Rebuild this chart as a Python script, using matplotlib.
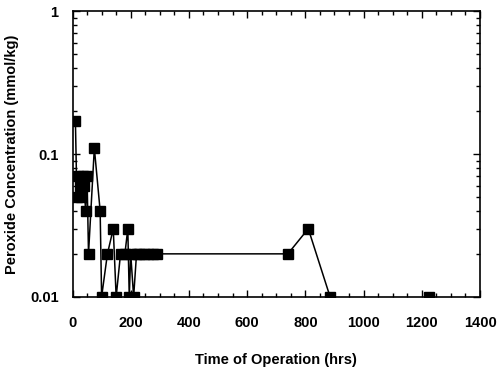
import numpy as np
import matplotlib.pyplot as plt
from matplotlib.ticker import MultipleLocator, LogLocator, NullFormatter, FixedFormatter, FixedLocator

plt.rcParams['font.family'] = ['Liberation Sans', 'DejaVu Sans']

# connected measurements (hrs, mmol/kg)
hours = [10, 15, 20, 25, 30, 35, 40, 45, 50, 55, 75, 95, 100, 120, 140, 150,
         165, 180, 190, 195, 200, 210, 220, 230, 245, 260, 275, 290,
         740, 810, 885]
peroxide = [0.17, 0.05, 0.07, 0.06, 0.05, 0.07, 0.06, 0.04, 0.07, 0.02, 0.11, 0.04, 0.01, 0.02, 0.03, 0.01,
            0.02, 0.02, 0.03, 0.01, 0.02, 0.01, 0.02, 0.02, 0.02, 0.02, 0.02, 0.02,
            0.02, 0.03, 0.01]
# isolated last measurement
hours_last = [1225]
peroxide_last = [0.01]

fig = plt.figure(figsize=(5.0, 3.72), dpi=100)
ax = fig.add_axes([0.145, 0.202, 0.815, 0.768])

ax.plot(hours, peroxide, color='black', lw=1.1, marker='s', ms=6.5,
        mfc='black', mec='black')
ax.plot(hours_last, peroxide_last, ls='none', marker='s', ms=6.5,
        mfc='black', mec='black')

ax.set_yscale('log')
ax.set_xlim(0, 1400)
ax.set_ylim(0.01, 1)
ax.xaxis.set_major_locator(MultipleLocator(200))
ax.xaxis.set_minor_locator(MultipleLocator(50))
ax.yaxis.set_major_locator(FixedLocator([0.01, 0.1, 1]))
ax.yaxis.set_major_formatter(FixedFormatter(['0.01', '0.1', '1']))
ax.yaxis.set_minor_locator(LogLocator(base=10, subs=np.arange(2, 10)))
ax.yaxis.set_minor_formatter(NullFormatter())

ax.tick_params(which='both', direction='in', top=True, right=True, width=1.0)
ax.tick_params(which='major', length=5, labelsize=10.5)
ax.tick_params(which='minor', length=3)
ax.tick_params(axis='x', which='major', pad=14)
ax.tick_params(axis='y', which='major', pad=10)
for lab in ax.get_xticklabels() + ax.get_yticklabels():
    lab.set_fontweight('bold')
for sp in ax.spines.values():
    sp.set_linewidth(1.2)

ax.set_xlabel('Time of Operation (hrs)', fontsize=10.5, fontweight='bold', labelpad=16)
ax.set_ylabel('Peroxide Concentration (mmol/kg)', fontsize=10.5, fontweight='bold', labelpad=8)

fig.savefig('out.png', dpi=100)
